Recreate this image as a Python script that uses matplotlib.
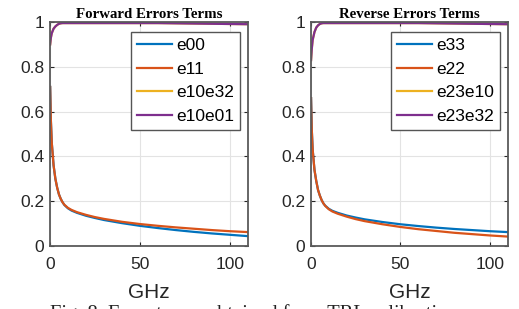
import matplotlib.pyplot as plt
from matplotlib.ticker import FormatStrFormatter

# Frecuencias (GHz)
freq = [0.1, 0.5, 1, 2, 3, 4, 5, 6, 7, 8, 10, 12, 15, 20, 25, 30, 40, 50, 60, 70, 80, 90, 100, 110]

# Terminos de error forward
e00 = [0.71, 0.56, 0.46, 0.36, 0.30, 0.26, 0.23, 0.21, 0.195, 0.183, 0.168, 0.158, 0.148, 0.135, 0.125, 0.116, 0.102, 0.090, 0.080, 0.071, 0.063, 0.056, 0.050, 0.044]
e11 = [0.71, 0.56, 0.46, 0.36, 0.30, 0.26, 0.23, 0.21, 0.195, 0.184, 0.170, 0.161, 0.151, 0.139, 0.129, 0.121, 0.108, 0.098, 0.090, 0.083, 0.077, 0.071, 0.066, 0.062]
e10e32 = [0.90, 0.93, 0.95, 0.97, 0.98, 0.987, 0.992, 0.994, 0.995, 0.995, 0.995, 0.995, 0.995, 0.995, 0.995, 0.995, 0.995, 0.995, 0.995, 0.994, 0.993, 0.992, 0.991, 0.99]
e10e01 = [0.90, 0.93, 0.95, 0.97, 0.98, 0.987, 0.992, 0.994, 0.995, 0.995, 0.995, 0.995, 0.995, 0.995, 0.995, 0.995, 0.995, 0.995, 0.995, 0.994, 0.993, 0.992, 0.991, 0.99]

# Terminos de error reverse
e33 = [0.66, 0.52, 0.43, 0.34, 0.29, 0.25, 0.225, 0.205, 0.19, 0.18, 0.166, 0.157, 0.148, 0.136, 0.127, 0.119, 0.107, 0.097, 0.089, 0.082, 0.076, 0.071, 0.066, 0.062]
e22 = [0.66, 0.52, 0.43, 0.34, 0.29, 0.25, 0.225, 0.205, 0.19, 0.179, 0.164, 0.154, 0.144, 0.131, 0.120, 0.111, 0.097, 0.085, 0.075, 0.067, 0.059, 0.053, 0.047, 0.042]
e23e10 = [0.83, 0.88, 0.92, 0.955, 0.975, 0.985, 0.991, 0.994, 0.995, 0.995, 0.995, 0.995, 0.995, 0.995, 0.995, 0.995, 0.995, 0.995, 0.995, 0.994, 0.993, 0.992, 0.991, 0.99]
e23e32 = [0.83, 0.88, 0.92, 0.955, 0.975, 0.985, 0.991, 0.994, 0.995, 0.995, 0.995, 0.995, 0.995, 0.995, 0.995, 0.995, 0.995, 0.995, 0.995, 0.994, 0.993, 0.992, 0.991, 0.99]

colores = ["#0072BD", "#D95319", "#EDB120", "#7E2F8E"]

plt.rcParams['font.family'] = ['Liberation Sans', 'DejaVu Sans']

fig = plt.figure(figsize=(5.19, 3.09), dpi=100)
ax1 = fig.add_axes([0.0963, 0.2039, 0.3815, 0.725])
ax2 = fig.add_axes([0.599, 0.2039, 0.3796, 0.725])


def panel(ax, titulo, series, nombres):
    for s, n, c in zip(series, nombres, colores):
        ax.plot(freq, s, color=c, lw=1.6, label=n)
    ax.set_xlim(0, 110)
    ax.set_ylim(0, 1)
    ax.set_xticks([0, 50, 100])
    ax.set_yticks([0, 0.2, 0.4, 0.6, 0.8, 1])
    ax.yaxis.set_major_formatter(FormatStrFormatter('%g'))
    ax.grid(True, color="#e3e3e3", lw=0.8)
    ax.set_axisbelow(True)
    ax.tick_params(direction='in', top=True, right=True, labelsize=12.5,
                   colors="#262626", length=3, width=0.8, pad=4)
    ax.tick_params(axis='x', pad=8)
    for sp in ax.spines.values():
        sp.set_color("#5a5a5a")
        sp.set_linewidth(1.3)
    ax.set_xlabel("GHz", fontsize=15, color="#262626", labelpad=8)
    ax.set_title(titulo, fontsize=10.7, fontweight='bold', family='Liberation Serif', pad=3)
    leg = ax.legend(loc='upper right', fontsize=12.5, bbox_to_anchor=(0.96, 0.955),
                    handlelength=2.0, handletextpad=0.25, borderpad=0.35,
                    labelspacing=0.48, fancybox=False, framealpha=1,
                    borderaxespad=0)
    leg.get_frame().set_edgecolor("#555555")
    leg.get_frame().set_linewidth(1.0)


panel(ax1, "Forward Errors Terms", [e00, e11, e10e32, e10e01], ["e00", "e11", "e10e32", "e10e01"])
panel(ax2, "Reverse Errors Terms", [e33, e22, e23e10, e23e32], ["e33", "e22", "e23e10", "e23e32"])

# Pie de figura (cortado abajo, como en el original)
fig.text(0.097, -0.05, "Fig. 8. Error terms obtained from TRL calibration",
         fontsize=14.8, family='Liberation Serif', ha='left', va='bottom', color="#222222")

plt.savefig("out.png", dpi=100)
